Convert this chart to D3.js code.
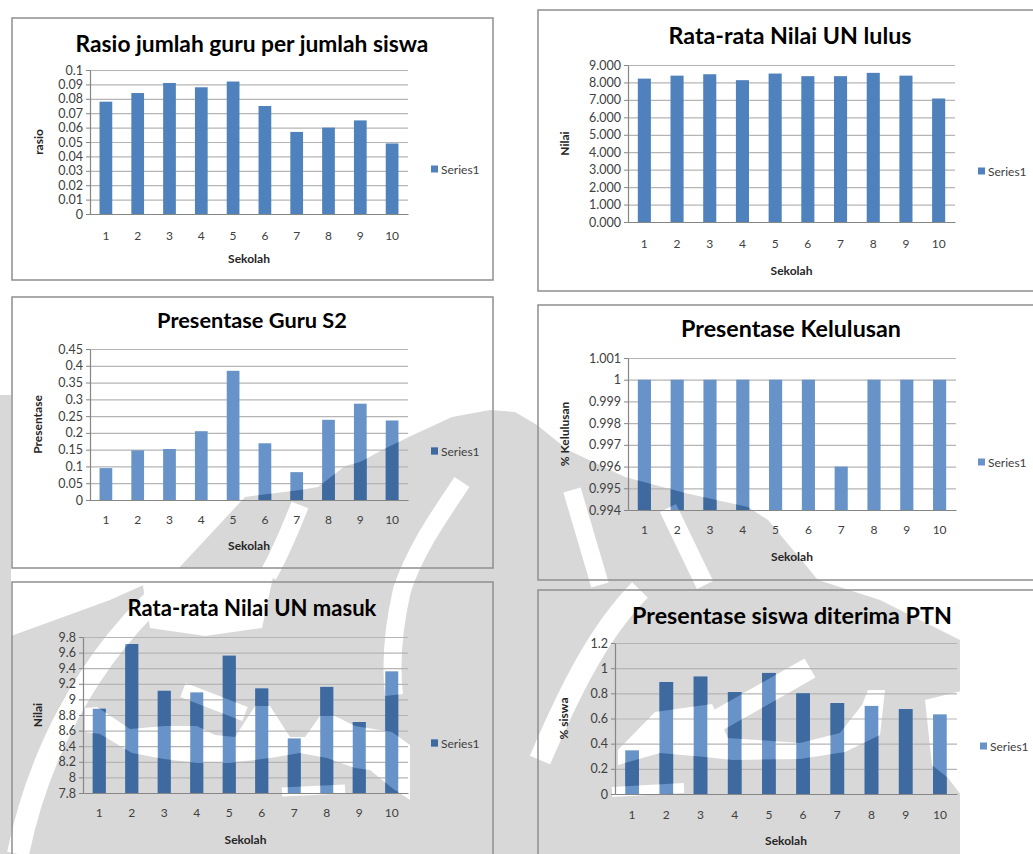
<!DOCTYPE html>
<html>
<head>
<meta charset="utf-8">
<script src="https://cdn.jsdelivr.net/npm/d3@7"></script>
<style>
  body { margin: 0; background: #fff; }
  svg { display: block; font-family: Lato, 'Open Sans', sans-serif; }
</style>
</head>
<body>
<svg id="page" width="1033" height="854"></svg>
<script>
// data
const sekolah = ['1', '2', '3', '4', '5', '6', '7', '8', '9', '10']

const rasio = [0.078, 0.084, 0.091, 0.088, 0.092, 0.075, 0.057, 0.060, 0.065, 0.049]
const nilaiLulus = [8.22, 8.39, 8.47, 8.13, 8.51, 8.36, 8.36, 8.55, 8.39, 7.08]
const guruS2 = [0.095, 0.148, 0.152, 0.205, 0.385, 0.169, 0.083, 0.239, 0.287, 0.237]
const kelulusan = [1, 1, 1, 1, 1, 1, 0.996, 1, 1, 1]
const nilaiMasuk = [8.88, 9.71, 9.11, 9.09, 9.56, 9.14, 8.50, 9.16, 8.71, 9.36]
const diterimaPTN = [0.347, 0.89, 0.933, 0.81, 0.962, 0.80, 0.723, 0.70, 0.675, 0.633]

const ticksRasio = ['0', '0.01', '0.02', '0.03', '0.04', '0.05', '0.06', '0.07', '0.08', '0.09', '0.1']
const ticksNilaiLulus = ['0.000', '1.000', '2.000', '3.000', '4.000', '5.000', '6.000', '7.000', '8.000', '9.000']
const ticksGuruS2 = ['0', '0.05', '0.1', '0.15', '0.2', '0.25', '0.3', '0.35', '0.4', '0.45']
const ticksKelulusan = ['0.994', '0.995', '0.996', '0.997', '0.998', '0.999', '1', '1.001']
const ticksNilaiMasuk = ['7.8', '8', '8.2', '8.4', '8.6', '8.8', '9', '9.2', '9.4', '9.6', '9.8']
const ticksPTN = ['0', '0.2', '0.4', '0.6', '0.8', '1', '1.2']

// layout of each chart on the page (box, plot area, text rows)
const charts = [
  { title: 'Rasio jumlah guru per jumlah siswa', titleX: 252, titleY: 43, titleW: 353,
    yTitle: 'rasio', values: rasio, ticks: ticksRasio,
    box: [12, 18, 493, 280], plot: [90, 70, 408, 214],
    tickY: 236, xTitleY: 258, yTitleX: 38, legend: [431, 169], color: '#4f81bd' },
  { title: 'Rata-rata Nilai UN lulus', titleX: 790, titleY: 35, titleW: 243,
    yTitle: 'Nilai', values: nilaiLulus, ticks: ticksNilaiLulus,
    box: [538, 10, 1040, 291], plot: [628, 65, 955, 222],
    tickY: 244, xTitleY: 270, yTitleX: 564, legend: [978, 171], color: '#4f81bd' },
  { title: 'Presentase Guru S2', titleX: 252, titleY: 320, titleW: 190,
    yTitle: 'Presentase', values: guruS2, ticks: ticksGuruS2,
    box: [12, 297, 493, 568], plot: [90, 349, 408, 500],
    tickY: 520, xTitleY: 545, yTitleX: 37, legend: [431, 451], color: '#6893c8' },
  { title: 'Presentase Kelulusan', titleX: 791, titleY: 328, titleW: 220,
    yTitle: '% Kelulusan', values: kelulusan, ticks: ticksKelulusan,
    box: [538, 305, 1040, 580], plot: [628, 358, 956, 510],
    tickY: 530, xTitleY: 556, yTitleX: 564, legend: [978, 462], color: '#6893c8' },
  { title: 'Rata-rata Nilai UN masuk', titleX: 252, titleY: 607, titleW: 249,
    yTitle: 'Nilai', values: nilaiMasuk, ticks: ticksNilaiMasuk,
    box: [12, 582, 493, 870], plot: [83, 637, 408, 793],
    tickY: 813, xTitleY: 839, yTitleX: 37, legend: [431, 743], color: '#6893c8' },
  { title: 'Presentase siswa diterima PTN', titleX: 792, titleY: 615, titleW: 320,
    yTitle: '% siswa', values: diterimaPTN, ticks: ticksPTN,
    box: [538, 590, 1040, 870], plot: [615, 643, 957, 794],
    tickY: 815, xTitleY: 840, yTitleX: 563, legend: [980, 746], color: '#6893c8' }
]

const darkBlue = '#3e6a9f'
const yTickFont = 12.5
const xTickFont = 12

// grey logo watermark behind the lower charts (page coordinates)
const wmFill = [
  'M0,395 H11 V854 H0 Z',
  'M177,570 L245,497 L300,490 L318,487 L345,466 L360,462 L386,448 L413,435 L452,417 L490,410 L515,412 L537,425 L568,450 L625,477 L685,493 L748,507 L768,520 L818,580 L880,600 L960,640 L960,854 L0,854 L0,640 L110,600 Z'
]
const wmCutFill = [
  'M140,568 L275,568 L262,628 L205,636 L150,628 Z',
  'M85,708 L97,707 L130,729 L165,726 L197,726 L215,735 L235,737 L255,706 L270,706 L290,737 L305,737 L320,716 L335,716 L355,726 L392,732 L410,745 L410,800 L392,788 L370,770 L355,768 L327,758 L300,753 L270,758 L229,763 L197,763 L164,759 L132,753 L100,734 L85,732 Z',
  'M618,750 L655,712 L712,704 L728,738 L800,743 L840,733 L862,705 L868,690 L885,690 L880,735 L845,752 L800,759 L733,760 L705,757 L660,753 L618,765 Z',
  'M925,700 L965,690 L965,800 L948,778 L932,765 Z'
]
const wmCutLine = [
  ['M18,854 C35,770 80,660 178,578', 22],
  ['M300,505 C290,530 280,555 268,575', 18],
  ['M462,482 C440,515 415,550 402,590 C394,625 390,660 394,695', 18],
  ['M572,490 L600,585', 18],
  ['M668,508 L705,585', 18],
  ['M183,690 L245,714', 15],
  ['M282,792 L345,789', 9],
  ['M715,722 L810,668', 22],
  ['M612,792 L684,788', 10],
  ['M540,760 C570,690 600,630 640,590', 22]
]

const svg = d3.select('#page')

const mask = svg.append('defs').append('mask')
  .attr('id', 'wm')
  .attr('maskUnits', 'userSpaceOnUse')
  .attr('x', 0).attr('y', 0).attr('width', 1033).attr('height', 854)
mask.append('rect').attr('width', 1033).attr('height', 854).attr('fill', '#000')
wmFill.forEach(d => mask.append('path').attr('d', d).attr('fill', '#fff'))
wmCutFill.forEach(d => mask.append('path').attr('d', d).attr('fill', '#000'))
wmCutLine.forEach(([d, w]) => mask.append('path').attr('d', d)
  .attr('fill', 'none').attr('stroke', '#000').attr('stroke-width', w))

svg.append('rect')
  .attr('width', 1033).attr('height', 854)
  .attr('fill', '#d8d8d8')
  .attr('mask', 'url(#wm)')

// shrink or grow a text so it spans the width seen in the picture
function fitWidth (text, width) {
  const len = text.node().getComputedTextLength()
  const fs = parseFloat(text.attr('font-size'))
  text.attr('font-size', fs * width / len)
}

function drawChart (c) {
  const [left, top, right, bottom] = c.plot
  const tickVals = c.ticks.map(Number)

  const x = d3.scaleBand()
    .domain(sekolah)
    .range([left, right])
    .paddingInner(0.6)
    .paddingOuter(0.3)
  const y = d3.scaleLinear()
    .domain(d3.extent(tickVals))
    .range([bottom, top])

  const g = svg.append('g')

  // chart area border
  g.append('rect')
    .attr('x', c.box[0]).attr('y', c.box[1])
    .attr('width', c.box[2] - c.box[0]).attr('height', c.box[3] - c.box[1])
    .attr('fill', 'none')
    .attr('stroke', '#8f8f8f')
    .attr('stroke-width', 1.5)

  // gridlines
  g.append('g')
    .attr('transform', `translate(${left},0)`)
    .call(d3.axisLeft(y).tickValues(tickVals).tickSize(-(right - left)).tickFormat(''))
    .call(a => a.select('.domain').remove())
    .selectAll('line')
    .attr('stroke', '#b5b5b5')
    .attr('stroke-width', 1.2)

  // bars, then the same bars darkened where the watermark lies
  const drawBars = (layer, color) => {
    layer.selectAll('rect.bar')
      .data(c.values)
      .join('rect')
      .attr('class', 'bar')
      .attr('x', (d, i) => x(sekolah[i]))
      .attr('y', d => y(d))
      .attr('width', x.bandwidth())
      .attr('height', d => bottom - y(d))
      .attr('fill', color)
    layer.append('rect')
      .attr('x', c.legend[0]).attr('y', c.legend[1] - 3.5)
      .attr('width', 7).attr('height', 7)
      .attr('fill', color)
  }
  drawBars(g.append('g'), c.color)
  drawBars(svg.append('g').attr('mask', 'url(#wm)'), darkBlue)

  const t = svg.append('g')

  // value axis
  t.append('g')
    .attr('transform', `translate(${left},0)`)
    .call(d3.axisLeft(y)
      .tickValues(tickVals)
      .tickFormat((d, i) => c.ticks[i])
      .tickSize(4)
      .tickSizeOuter(0)
      .tickPadding(3))
    .call(a => a.select('.domain').attr('stroke', '#868686').attr('stroke-width', 1.2))
    .call(a => a.selectAll('.tick line').attr('stroke', '#868686'))
    .call(a => a.selectAll('text')
      .attr('font-size', yTickFont)
      .attr('fill', '#404040'))
    .attr('font-family', null)
    .attr('font-size', null)

  // category axis
  t.append('g')
    .attr('transform', `translate(0,${bottom})`)
    .call(d3.axisBottom(x)
      .tickSize(0)
      .tickSizeOuter(0)
      .tickPadding(c.tickY - bottom - 0.35 * xTickFont))
    .call(a => a.select('.domain').attr('stroke', '#868686').attr('stroke-width', 1.2))
    .call(a => a.selectAll('text')
      .attr('font-size', xTickFont)
      .attr('fill', '#404040'))
    .attr('font-family', null)
    .attr('font-size', null)

  // title
  const title = t.append('text')
    .attr('x', c.titleX)
    .attr('y', c.titleY)
    .attr('dominant-baseline', 'central')
    .attr('text-anchor', 'middle')
    .attr('font-size', 20)
    .attr('font-weight', 'bold')
    .attr('fill', '#000')
    .text(c.title)
  fitWidth(title, c.titleW)

  // axis titles
  t.append('text')
    .attr('x', (left + right) / 2)
    .attr('y', c.xTitleY)
    .attr('dominant-baseline', 'central')
    .attr('text-anchor', 'middle')
    .attr('font-size', 12)
    .attr('font-weight', 'bold')
    .attr('fill', '#262626')
    .text('Sekolah')

  t.append('text')
    .attr('transform', `translate(${c.yTitleX},${(top + bottom) / 2}) rotate(-90)`)
    .attr('dominant-baseline', 'central')
    .attr('text-anchor', 'middle')
    .attr('font-size', 12)
    .attr('font-weight', 'bold')
    .attr('fill', '#262626')
    .text(c.yTitle)

  // legend label
  t.append('text')
    .attr('x', c.legend[0] + 10)
    .attr('y', c.legend[1])
    .attr('dominant-baseline', 'central')
    .attr('font-size', xTickFont)
    .attr('fill', '#404040')
    .text('Series1')
}

charts.forEach(drawChart)
</script>
</body>
</html>
